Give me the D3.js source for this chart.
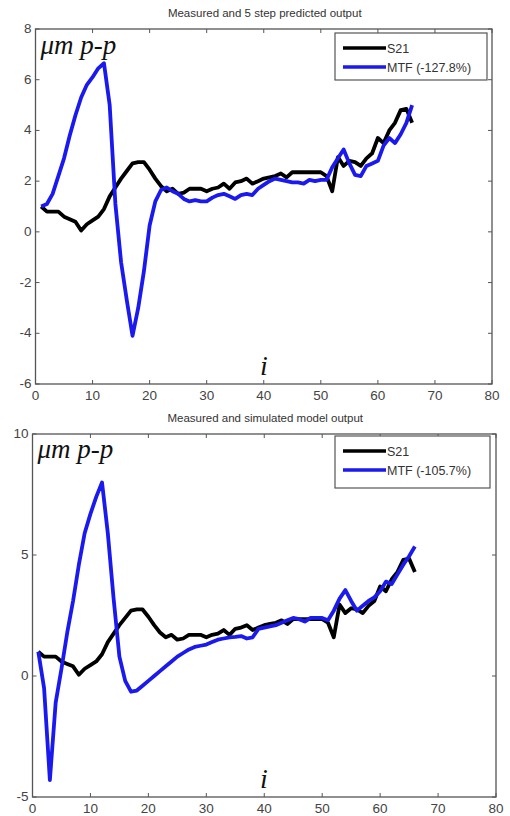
<!DOCTYPE html>
<html lang="en">
<head>
<meta charset="utf-8">
<script src="https://cdn.jsdelivr.net/npm/d3@7/dist/d3.min.js"></script>
<style>
  body { margin: 0; background: #fff; }
  svg { display: block; }
</style>
</head>
<body>
<div id="canvas"></div>
<script>
// sample index i = 1..66
var steps = d3.range(1, 67);

// measured output (S21), same in both panels
var s21 = [1.0, 0.8, 0.8, 0.8, 0.6, 0.5, 0.4, 0.05, 0.3, 0.45,
           0.6, 0.9, 1.4, 1.75, 2.1, 2.4, 2.7, 2.75, 2.75, 2.45,
           2.1, 1.8, 1.6, 1.7, 1.5, 1.55, 1.7, 1.7, 1.7, 1.6,
           1.7, 1.75, 1.9, 1.7, 1.95, 2.0, 2.1, 1.9, 2.0, 2.1,
           2.15, 2.2, 2.3, 2.15, 2.35, 2.35, 2.35, 2.35, 2.35, 2.35,
           2.2, 1.6, 2.95, 2.6, 2.8, 2.75, 2.6, 2.9, 3.1, 3.7,
           3.5, 4.0, 4.3, 4.8, 4.85, 4.3];

// 5 step predicted (top panel)
var mtfPredicted = [1.0, 1.1, 1.5, 2.2, 2.9, 3.8, 4.6, 5.3, 5.8, 6.1,
                    6.45, 6.65, 5.0, 1.1, -1.2, -2.7, -4.1, -3.0, -1.55, 0.25,
                    1.2, 1.65, 1.75, 1.6, 1.5, 1.3, 1.2, 1.25, 1.2, 1.2,
                    1.35, 1.45, 1.5, 1.4, 1.3, 1.45, 1.5, 1.45, 1.7, 1.85,
                    2.0, 2.1, 2.05, 2.0, 1.95, 1.95, 1.9, 2.05, 2.0, 2.05,
                    2.05, 2.55, 2.9, 3.25, 2.7, 2.25, 2.2, 2.6, 2.7, 2.8,
                    3.4, 3.7, 3.5, 3.85, 4.3, 5.0];

// simulated model output (bottom panel)
var mtfSimulated = [1.0, -0.5, -4.3, -1.1, 0.3, 1.8, 3.1, 4.6, 5.9, 6.7,
                    7.4, 8.0, 5.9, 3.2, 0.8, -0.2, -0.65, -0.6, -0.4, -0.2,
                    0.0, 0.2, 0.4, 0.6, 0.8, 0.95, 1.1, 1.2, 1.25, 1.3,
                    1.4, 1.5, 1.55, 1.6, 1.62, 1.65, 1.55, 1.6, 1.95, 2.0,
                    2.05, 2.1, 2.2, 2.3, 2.4, 2.35, 2.25, 2.4, 2.4, 2.4,
                    2.3, 2.7, 3.2, 3.55, 3.1, 2.7, 2.9, 3.1, 3.25, 3.5,
                    3.9, 3.8, 4.2, 4.6, 4.95, 5.35];

var xTicks = [0, 10, 20, 30, 40, 50, 60, 70, 80];
var yTicksTop = [-6, -4, -2, 0, 2, 4, 6, 8];
var yTicksBottom = [-5, 0, 5, 10];

var titles = ["Measured and 5 step predicted output", "Measured and simulated model output"];
var legendTop = ["S21", "MTF (-127.8%)"];
var legendBottom = ["S21", "MTF (-105.7%)"];

var svg = d3.select("#canvas").append("svg")
    .attr("width", 510)
    .attr("height", 816);

function drawPanel(p) {
  var x = d3.scaleLinear().domain([0, 80]).range([p.left, p.right]);
  var y = d3.scaleLinear().domain(p.yDomain).range([p.bottom, p.top]);
  var g = svg.append("g");
  var tick = 4;

  // title
  g.append("text")
    .attr("x", (p.left + p.right) / 2 + 1)
    .attr("y", p.top - 12)
    .attr("text-anchor", "middle")
    .style("font-family", "Liberation Sans, Arial, sans-serif")
    .style("font-size", "11.5px")
    .style("fill", "#333")
    .text(p.title);

  // box
  g.append("rect")
    .attr("x", p.left).attr("y", p.top)
    .attr("width", p.right - p.left).attr("height", p.bottom - p.top)
    .attr("fill", "none").attr("stroke", "#555").attr("stroke-width", 1.3);

  // x ticks (bottom and top, pointing inward)
  xTicks.forEach(function (t) {
    g.append("line").attr("x1", x(t)).attr("x2", x(t))
      .attr("y1", p.bottom).attr("y2", p.bottom - tick)
      .attr("stroke", "#555");
    g.append("line").attr("x1", x(t)).attr("x2", x(t))
      .attr("y1", p.top).attr("y2", p.top + tick)
      .attr("stroke", "#555");
    g.append("text")
      .attr("x", x(t)).attr("y", p.bottom + 16)
      .attr("text-anchor", "middle")
      .style("font-family", "Liberation Sans, Arial, sans-serif")
      .style("font-size", "13.5px")
      .style("fill", "#444")
      .text(t);
  });

  // y ticks (left and right)
  p.yTicks.forEach(function (t) {
    g.append("line").attr("x1", p.left).attr("x2", p.left + tick)
      .attr("y1", y(t)).attr("y2", y(t)).attr("stroke", "#555");
    g.append("line").attr("x1", p.right).attr("x2", p.right - tick)
      .attr("y1", y(t)).attr("y2", y(t)).attr("stroke", "#555");
    g.append("text")
      .attr("x", p.left - 4).attr("y", y(t) + 4)
      .attr("text-anchor", "end")
      .style("font-family", "Liberation Sans, Arial, sans-serif")
      .style("font-size", "13.5px")
      .style("fill", "#444")
      .text(t);
  });

  var line = d3.line()
    .x(function (d, i) { return x(steps[i]); })
    .y(function (d) { return y(d); });

  g.append("path").datum(s21)
    .attr("d", line)
    .attr("fill", "none").attr("stroke", "#000")
    .attr("stroke-width", 3.8).attr("stroke-linejoin", "round");

  g.append("path").datum(p.mtf)
    .attr("d", line)
    .attr("fill", "none").attr("stroke", "#1a1aee")
    .attr("stroke-width", 3.8).attr("stroke-linejoin", "round");

  // axis annotations
  g.append("text")
    .attr("x", p.left + 5).attr("y", p.unitY)
    .style("font-family", "Liberation Serif, DejaVu Serif, serif")
    .style("font-style", "italic")
    .style("font-size", "27px")
    .style("fill", "#111")
    .text("\u03bcm p-p");

  g.append("text")
    .attr("x", 264).attr("y", p.iY)
    .attr("text-anchor", "middle")
    .style("font-family", "Liberation Serif, DejaVu Serif, serif")
    .style("font-style", "italic")
    .style("font-size", "28px")
    .style("fill", "#111")
    .text("i");

  // legend
  var lg = g.append("g");
  lg.append("rect")
    .attr("x", p.legend.x).attr("y", p.legend.y)
    .attr("width", p.legend.w).attr("height", p.legend.h)
    .attr("fill", "#fff").attr("stroke", "#555").attr("stroke-width", 1.2);
  var colors = ["#000", "#1a1aee"];
  p.legendLabels.forEach(function (lab, i) {
    var ly = p.legend.y + 15 + i * 19;
    lg.append("line")
      .attr("x1", p.legend.x + 8).attr("x2", p.legend.x + 51)
      .attr("y1", ly).attr("y2", ly)
      .attr("stroke", colors[i]).attr("stroke-width", 3.6);
    lg.append("text")
      .attr("x", p.legend.x + 52).attr("y", ly + 4.5)
      .style("font-family", "Liberation Sans, Arial, sans-serif")
      .style("font-size", "12.5px")
      .style("fill", "#333")
      .text(lab);
  });
}

drawPanel({
  left: 35.5, right: 492, top: 29, bottom: 384,
  yDomain: [-6, 8], yTicks: yTicksTop,
  mtf: mtfPredicted, title: titles[0],
  legendLabels: legendTop,
  legend: {x: 335, y: 33, w: 152, h: 47},
  unitY: 54, iY: 375
});

drawPanel({
  left: 32.5, right: 496, top: 434, bottom: 797,
  yDomain: [-5, 10], yTicks: yTicksBottom,
  mtf: mtfSimulated, title: titles[1],
  legendLabels: legendBottom,
  legend: {x: 335, y: 436, w: 155, h: 52},
  unitY: 458, iY: 788
});
</script>
</body>
</html>
